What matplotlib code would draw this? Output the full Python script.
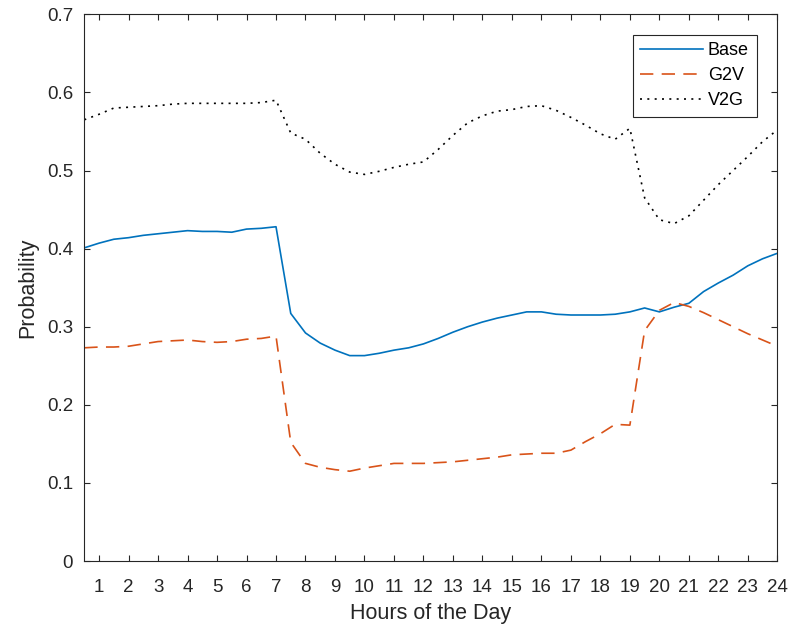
import numpy as np
import matplotlib
matplotlib.use("Agg")
import matplotlib.pyplot as plt

# half-hourly profile, 0.5 h .. 24 h
hours = np.arange(1, 49) * 0.5

base = [0.401, 0.407, 0.412, 0.414, 0.417, 0.419, 0.421, 0.423, 0.422, 0.422,
        0.421, 0.425, 0.426, 0.428, 0.317, 0.292, 0.279, 0.270, 0.263, 0.263,
        0.266, 0.270, 0.273, 0.278, 0.285, 0.293, 0.300, 0.306, 0.311, 0.315,
        0.319, 0.319, 0.316, 0.315, 0.315, 0.315, 0.316, 0.319, 0.324, 0.319,
        0.325, 0.330, 0.345, 0.356, 0.366, 0.378, 0.387, 0.394]

g2v = [0.273, 0.274, 0.274, 0.275, 0.278, 0.281, 0.282, 0.283, 0.281, 0.280,
       0.281, 0.284, 0.285, 0.288, 0.152, 0.125, 0.120, 0.117, 0.115, 0.119,
       0.122, 0.125, 0.125, 0.125, 0.126, 0.127, 0.129, 0.131, 0.133, 0.136,
       0.137, 0.138, 0.138, 0.142, 0.153, 0.163, 0.175, 0.174, 0.295, 0.321,
       0.331, 0.326, 0.318, 0.309, 0.300, 0.291, 0.283, 0.275]

v2g = [0.565, 0.572, 0.580, 0.581, 0.582, 0.583, 0.585, 0.586, 0.586, 0.586,
       0.586, 0.586, 0.587, 0.590, 0.548, 0.540, 0.522, 0.508, 0.498, 0.495,
       0.499, 0.504, 0.508, 0.511, 0.527, 0.545, 0.561, 0.570, 0.576, 0.578,
       0.582, 0.583, 0.577, 0.568, 0.558, 0.547, 0.540, 0.554, 0.465, 0.437,
       0.432, 0.442, 0.462, 0.482, 0.500, 0.518, 0.537, 0.552]

xticks = list(range(1, 25))
yticks = [0, 0.1, 0.2, 0.3, 0.4, 0.5, 0.6, 0.7]
ytick_labels = ["0", "0.1", "0.2", "0.3", "0.4", "0.5", "0.6", "0.7"]

plt.rcParams["font.family"] = ["Liberation Sans", "DejaVu Sans"]
dark = "#262626"

fig = plt.figure(figsize=(7.94, 6.33), dpi=100)
ax = fig.add_axes([0.1062, 0.1137, 0.8728, 0.8637])

ax.plot(hours, base, color="#0072BD", lw=1.2, label="Base")
ax.plot(hours, g2v, color="#D95319", lw=1.2, linestyle=(0, (8, 5)), label="G2V")
ax.plot(hours, v2g, color="black", lw=1.2, linestyle=(0, (1.2, 3.2)), label="V2G")

ax.set_xlim(0.5, 24)
ax.set_ylim(0, 0.7)
ax.set_xticks(xticks)
ax.set_yticks(yticks)
ax.set_yticklabels(ytick_labels)

ax.tick_params(direction="in", length=4.5, width=0.8, colors=dark,
               top=True, right=True, labelsize=13.5)
ax.tick_params(axis="x", pad=13)
ax.tick_params(axis="y", pad=8)
for s in ax.spines.values():
    s.set_color(dark)
    s.set_linewidth(0.8)

ax.set_xlabel("Hours of the Day", fontsize=15.5, color=dark, labelpad=5)
ax.set_ylabel("Probability", fontsize=15.5, color=dark, labelpad=6)

leg = ax.legend(loc="upper right", bbox_to_anchor=(0.97, 0.963), fontsize=13,
                handlelength=3.5, handletextpad=0.25, labelspacing=0.45,
                borderpad=0.42, borderaxespad=0, fancybox=False, framealpha=1)
leg.get_frame().set_edgecolor(dark)
leg.get_frame().set_linewidth(0.8)

fig.savefig("out.png", dpi=100, facecolor="white")
